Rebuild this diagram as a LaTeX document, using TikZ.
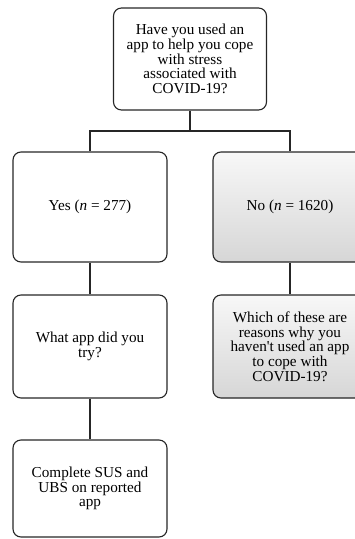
\documentclass[tikz,border=0pt]{standalone}
\usepackage{fontspec}
\setmainfont{Liberation Serif}
\begin{document}
\begin{tikzpicture}[x=1pt,y=-1pt]
  \tikzstyle{every node}+=[inner sep=0pt]
  \tikzstyle{box}=[draw=black!85, line width=1.1pt, rounded corners=8pt, minimum width=154pt, align=center, font=\fontsize{15.2}{14.7}\selectfont]
  \tikzstyle{greybox}=[box, top color=black!3, bottom color=black!16]
  \tikzstyle{link}=[draw=black!85, line width=1.1pt]
  \useasboundingbox (0,0) rectangle (355,539);
  \node [box, minimum width=153pt, minimum height=102pt] (ask) at (190,59) {Have you used an\\app to help you cope\\with stress\\associated with\\COVID-19?};
  \node [box, minimum height=110pt] (yes) at (90,207) {Yes (\textit{n} = 277)};
  \node [greybox, minimum height=110pt] (no) at (290,207) {No (\textit{n} = 1620)};
  \node [box, minimum height=103pt] (whatapp) at (90,346.5) {What app did you\\try?};
  \node [greybox, minimum height=103pt] (whynot) at (290,346.5) {Which of these are\\reasons why you\\haven\textquotesingle t used an app\\to cope with\\COVID-19?};
  \node [box, minimum height=97pt] (sus) at (90,488.5) {Complete SUS and\\UBS on reported\\app};
  \coordinate (split) at (190,131);
  \draw [link] (ask.south) -- (split) -| (yes.north);
  \draw [link] (split) -| (no.north);
  \draw [link] (yes) -- (whatapp);
  \draw [link] (no) -- (whynot);
  \draw [link] (whatapp) -- (sus);
\end{tikzpicture}
\end{document}
